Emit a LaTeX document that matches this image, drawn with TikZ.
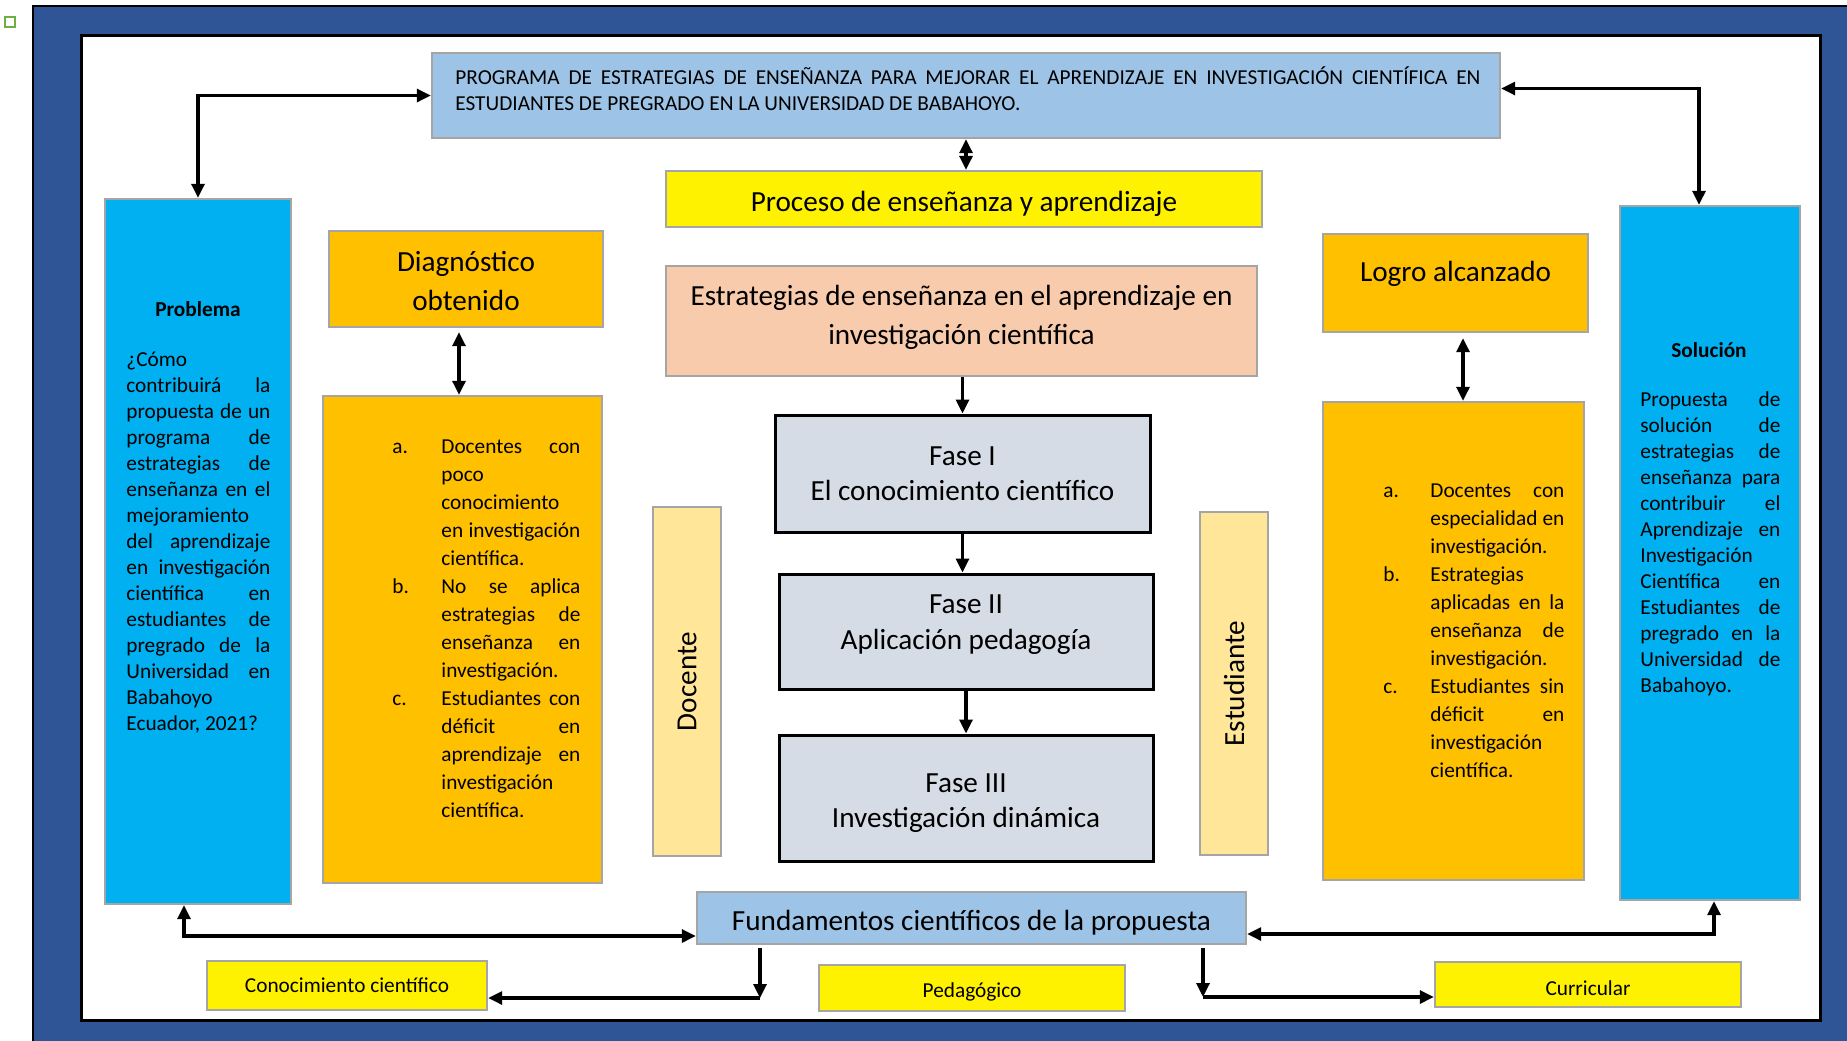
\documentclass[tikz,border=0pt]{standalone}
\usepackage{fontspec}
\setmainfont{Carlito}
\usepackage{tikz}
\usetikzlibrary{arrows.meta,positioning}

\definecolor{framecol}{HTML}{2F5597}
\definecolor{titlecol}{HTML}{9DC3E6}
\definecolor{peachcol}{HTML}{F8CBAD}
\definecolor{phasecol}{HTML}{D6DCE5}
\definecolor{palecol}{HTML}{FFE699}
\definecolor{ambercol}{HTML}{FFC000}
\definecolor{cyancol}{HTML}{00B0F0}
\definecolor{edgecol}{HTML}{A5A5A5}
\definecolor{anchorcol}{HTML}{70AD47}

\newcommand{\txtsmall}{\fontsize{10.65pt}{13pt}\selectfont}
\newcommand{\txtlist}{\fontsize{10.65pt}{14pt}\selectfont}
\newcommand{\txtbig}{\fontsize{14.6pt}{19.5pt}\selectfont}
\newcommand{\txtphase}{\fontsize{14.6pt}{17.75pt}\selectfont}

\newenvironment{itemlist}[1]
  {\begin{list}{}{\setlength{\leftmargin}{#1}\setlength{\labelwidth}{#1}%
    \setlength{\labelsep}{0pt}\setlength{\itemsep}{0pt}\setlength{\parsep}{0pt}%
    \setlength{\topsep}{0pt}\setlength{\partopsep}{0pt}%
    \renewcommand{\makelabel}[1]{##1\hfil}}}
  {\end{list}}

\hyphenpenalty=10000
\exhyphenpenalty=10000
\tolerance=10000

\begin{document}
\begin{tikzpicture}
	[x=0.5pt, y=-0.5pt, inner sep=0pt,
	box/.style	= {rectangle, draw=edgecol, line width=1.2pt, inner sep=0pt, align=center},
	phase/.style	= {rectangle, draw=black, line width=1.5pt, fill=phasecol, inner sep=0pt, align=center, font=\txtphase},
	bodytext/.style	= {anchor=north west, align=justify, font=\txtsmall},
	listtext/.style	= {anchor=north west, align=justify, font=\txtlist},
	paths/.style	= {-{Triangle[length=7pt, width=6.5pt]}, line width=1.6pt},
	twoway/.style	= {{Triangle[length=7pt, width=6.5pt]}-{Triangle[length=7pt, width=6.5pt]}, line width=1.6pt}]

	\useasboundingbox (0,0) rectangle (1847,1040);

	% frame
	\fill [framecol] (33,6) rectangle (1880,1080);
	\draw [line width=0.8pt] (1880,6) -- (33,6) -- (33,1080);
	\draw [line width=1.5pt, fill=white] (81,35) rectangle (1820,1020);
	\draw [anchorcol, line width=1pt, fill=white] (5,17) rectangle (15,27);

	% top
	\node at (966, 95.5)	[box, fill=titlecol, minimum width=534pt, minimum height=42.5pt]	(title)	{};
	\node at (455, 66)	[bodytext, text width=512.5pt]	(titletxt)	{\strut PROGRAMA DE ESTRATEGIAS DE ENSEÑANZA PARA MEJORAR EL APRENDIZAJE EN INVESTIGACIÓN CIENTÍFICA EN\linebreak ESTUDIANTES DE PREGRADO EN LA UNIVERSIDAD DE BABAHOYO.};
	\node at (964, 199)	[box, fill=yellow, minimum width=298pt, minimum height=28pt]	(proc)	{};
	\node at (964, 203.7)	[font=\txtbig]	(proctxt)	{Proceso de enseñanza y aprendizaje};
	\node at (961.5, 321)	[box, fill=peachcol, minimum width=295.5pt, minimum height=55pt]	(estr)	{};
	\node at (961.5, 317.4)	[align=center, font=\txtbig]	(estrtxt)	{Estrategias de enseñanza en el aprendizaje en\\investigación científica};

	% phases
	\node at (962.5, 473.5)	[phase, minimum width=187.5pt, minimum height=58.5pt]	(ph1)	{Fase I\\El conocimiento científico};
	\node at (966, 631.5)	[phase, minimum width=187pt, minimum height=57.5pt]	(ph2)	{};
	\node at (966, 624.4)	[align=center, font=\txtphase]	(ph2txt)	{Fase II\\Aplicación pedagogía};
	\node at (966, 798)	[phase, minimum width=187pt, minimum height=63pt]	(ph3)	{};
	\node at (966, 803)	[align=center, font=\txtphase]	(ph3txt)	{Fase III\\Investigación dinámica};
	\node at (687, 681.5)	[box, fill=palecol, rotate=90, minimum width=174.5pt, minimum height=34pt, font=\txtbig]	(doc)	{Docente};
	\node at (1234, 683.5)	[box, fill=palecol, rotate=90, minimum width=171.5pt, minimum height=34pt, font=\txtbig]	(est)	{Estudiante};

	% left side
	\node at (198, 551.5)	[box, fill=cyancol, minimum width=93pt, minimum height=352.5pt]	(prob)	{};
	\node at (198, 309)	[font=\txtsmall\bfseries]	(probhead)	{Problema};
	\node at (126, 348)	[bodytext, text width=72pt]	(probtxt)	{\strut ¿Cómo\linebreak contribuirá la\linebreak propuesta de un\linebreak programa de\linebreak estrategias de\linebreak enseñanza en el\linebreak mejoramiento\linebreak del aprendizaje\linebreak en investigación\linebreak científica en\linebreak estudiantes de\linebreak pregrado de la\linebreak Universidad en\linebreak Babahoyo\linebreak Ecuador, 2021?};
	\node at (466, 279)	[box, fill=ambercol, minimum width=137pt, minimum height=48pt]	(dhead)	{};
	\node at (466, 281.4)	[align=center, font=\txtbig]	(dheadtxt)	{Diagnóstico\\obtenido};
	\node at (462.5, 639.5)	[box, fill=ambercol, minimum width=139.5pt, minimum height=243.5pt]	(dlist)	{};
	\node at (392, 425)	[listtext, text width=94pt]	(dlisttxt)	{%
		\begin{itemlist}{24.5pt}
		\item[a.] \strut Docentes con\linebreak poco\linebreak conocimiento\linebreak en investigación\linebreak científica.
		\item[b.] No se aplica\linebreak estrategias de\linebreak enseñanza en\linebreak investigación.
		\item[c.] Estudiantes con\linebreak déficit en\linebreak aprendizaje en\linebreak investigación\linebreak científica.
		\end{itemlist}};

	% right side
	\node at (1455.5, 283)	[box, fill=ambercol, minimum width=132.5pt, minimum height=49pt, font=\txtbig, text depth=11.6pt]	(lhead)	{Logro alcanzado};
	\node at (1453.5, 641)	[box, fill=ambercol, minimum width=130.5pt, minimum height=239pt]	(llist)	{};
	\node at (1383, 469)	[listtext, text width=90.5pt]	(llisttxt)	{%
		\begin{itemlist}{23.5pt}
		\item[a.] \strut Docentes con\linebreak especialidad en\linebreak investigación.
		\item[b.] Estrategias\linebreak aplicadas en la\linebreak enseñanza de\linebreak investigación.
		\item[c.] Estudiantes sin\linebreak déficit en\linebreak investigación\linebreak científica.
		\end{itemlist}};
	\node at (1710, 553)	[box, fill=cyancol, minimum width=90pt, minimum height=347pt]	(sol)	{};
	\node at (1709, 350)	[font=\txtsmall\bfseries]	(solhead)	{Solución};
	\node at (1640, 388)	[bodytext, text width=70pt]	(soltxt)	{\strut Propuesta de\linebreak solución de\linebreak estrategias de\linebreak enseñanza para\linebreak contribuir el\linebreak Aprendizaje en\linebreak Investigación\linebreak Científica en\linebreak Estudiantes de\linebreak pregrado en la\linebreak Universidad de\linebreak Babahoyo.};

	% bottom
	\node at (971.5, 918)	[box, fill=titlecol, minimum width=274.5pt, minimum height=26pt]	(fund)	{};
	\node at (971.5, 922.7)	[font=\txtbig]	(fundtxt)	{Fundamentos científicos de la propuesta};
	\node at (347, 985.5)	[box, fill=yellow, minimum width=140pt, minimum height=24.5pt, font=\txtsmall]	(conoc)	{Conocimiento científico};
	\node at (972, 988)	[box, fill=yellow, minimum width=153pt, minimum height=23pt]	(peda)	{};
	\node at (972, 991.5)	[font=\txtsmall]	(pedatxt)	{Pedagógico};
	\node at (1588, 984.5)	[box, fill=yellow, minimum width=153pt, minimum height=22.5pt]	(curr)	{};
	\node at (1588, 988)	[font=\txtsmall]	(currtxt)	{Curricular};

	\coordinate (kc) at (760, 998);
	\coordinate (kr) at (1203, 997);

	\draw [twoway] (prob.north) |- (title.west);
	\draw [twoway] ([yshift=3.5pt]title.east) -| ([xshift=-5.5pt]sol.north);
	\draw [twoway] (title.south) -- (title.south |- proc.north);
	\draw [paths] (ph1.north |- estr.south) -- (ph1.north);
	\draw [paths] (ph1.south) -- (ph1.south |- ph2.north);
	\draw [paths] (ph2.south) -- (ph2.south |- ph3.north);
	\draw [twoway, shorten <=2pt] ([xshift=-3.5pt]dhead.south) -- ([xshift=-3.5pt]dhead.south |- dlist.north);
	\draw [twoway, shorten <=2.5pt] ([xshift=3.75pt]lhead.south) -- ([xshift=3.75pt]lhead.south |- llist.north);
	\draw [twoway] ([xshift=-7pt]prob.south) |- ([yshift=-9pt]fund.west);
	\draw [twoway] ([xshift=2pt]sol.south) |- ([yshift=-8pt]fund.east);
	\draw [paths, shorten <=1.5pt] (fund.south -| kc) -- (kc);
	\draw [paths] (kc) -- (kc -| conoc.east);
	\draw [paths, shorten <=1.5pt] (fund.south -| kr) -- (kr);
	\draw [paths] (kr) -- (kr -| curr.west);

\end{tikzpicture}
\end{document}
